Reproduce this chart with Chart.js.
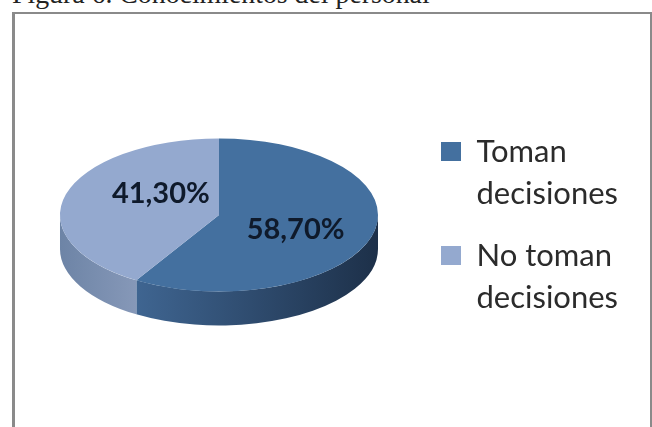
<!DOCTYPE html>
<html lang="es">
<head>
<meta charset="utf-8">
<style>
  html, body { margin: 0; padding: 0; background: #fff; width: 652px; height: 427px; overflow: hidden; }
  #caption { position: absolute; left: 12px; top: -22px; font: 27.8px "Liberation Serif", serif; color: #222; white-space: nowrap; }
  #frame { position: absolute; left: 12px; top: 12px; width: 640px; height: 430px; border: solid #8a8a8a; border-width: 2px 2px 2px 3px; box-sizing: border-box; }
  #wrap { position: absolute; left: 0; top: 0; width: 652px; height: 427px; }
</style>
<script src="https://cdn.jsdelivr.net/npm/chart.js@4/dist/chart.umd.min.js"></script>
</head>
<body>
<div id="caption">Figura 6. Conocimientos del personal</div>
<div id="frame"></div>
<div id="wrap"><canvas id="chart" width="652" height="427"></canvas></div>
<script>
const categories = [["Toman", "decisiones"], ["No toman", "decisiones"]];
const shares = [58.7, 41.3];
const valueLabels = ["58,70%", "41,30%"];
const topColors = ["#44709f", "#94a9cf"];
const wallColors = [["#3f6591", "#1d3049"], ["#6d84a6", "#8698b8"]];

const TILT = 0.481;   // vertical squash of the disc
const DEPTH = 34;     // height of the disc edge in pixels

// Draws the disc edge under the slices, then squashes the slices into an ellipse.
const discPlugin = {
  id: "disc",
  afterLayout(chart, args, opts) {
    const legend = chart.legend;
    legend.left += opts.legendShift.x;
    legend.right += opts.legendShift.x;
    legend.top += opts.legendShift.y;
    legend.bottom += opts.legendShift.y;
  },
  beforeDatasetsDraw(chart) {
    const ctx = chart.ctx;
    const arcs = chart.getDatasetMeta(0).data;
    arcs.forEach((arc, i) => {
      const from = Math.max(arc.startAngle, 0);
      const to = Math.min(arc.endAngle, Math.PI);
      if (to <= from) return;
      const rx = arc.outerRadius, ry = rx * TILT;
      const x0 = arc.x + rx * Math.cos(to), x1 = arc.x + rx * Math.cos(from);
      const g = ctx.createLinearGradient(Math.min(x0, x1), 0, Math.max(x0, x1), 0);
      g.addColorStop(0, wallColors[i][0]);
      g.addColorStop(1, wallColors[i][1]);
      ctx.save();
      ctx.fillStyle = g;
      ctx.beginPath();
      ctx.ellipse(arc.x, arc.y, rx, ry, 0, from, to);
      ctx.ellipse(arc.x, arc.y + DEPTH, rx, ry, 0, to, from, true);
      ctx.closePath();
      ctx.fill();
      ctx.restore();
    });
    const a = arcs[0];
    ctx.save();
    ctx.translate(a.x, a.y);
    ctx.scale(1, TILT);
    ctx.translate(-a.x, -a.y);
  },
  afterDatasetsDraw(chart, args, opts) {
    const ctx = chart.ctx;
    ctx.restore();
    const arcs = chart.getDatasetMeta(0).data;
    ctx.save();
    ctx.font = opts.font;
    ctx.fillStyle = opts.color;
    ctx.textAlign = "center";
    ctx.textBaseline = "middle";
    arcs.forEach((arc, i) => {
      const mid = (arc.startAngle + arc.endAngle) / 2;
      const r = arc.outerRadius * opts.reach[i];
      const x = arc.x + r * Math.cos(mid);
      const y = arc.y + r * Math.sin(mid) * TILT + opts.lift[i];
      ctx.fillText(valueLabels[i], x, y);
    });
    ctx.restore();
  }
};

new Chart(document.getElementById("chart"), {
  type: "pie",
  data: {
    labels: categories,
    datasets: [{ data: shares, backgroundColor: topColors, borderWidth: 0 }]
  },
  plugins: [discPlugin],
  options: {
    responsive: false,
    animation: false,
    layout: { padding: { left: 7, right: 14, top: 56, bottom: 53 } },
    plugins: {
      tooltip: { enabled: false },
      disc: {
        font: 'bold 29px Lato, sans-serif',
        color: "#0f1a2b",
        reach: [0.5, 0.38],
        lift: [4, -14],
        legendShift: { x: -10, y: 15 }
      },
      legend: {
        position: "right",
        align: "center",
        labels: {
          boxWidth: 20,
          boxHeight: 19,
          padding: 20,
          color: "#2b2b2b",
          font: { family: 'Lato, sans-serif', size: 31, lineHeight: "42px" }
        }
      }
    }
  }
});
</script>
</body>
</html>
